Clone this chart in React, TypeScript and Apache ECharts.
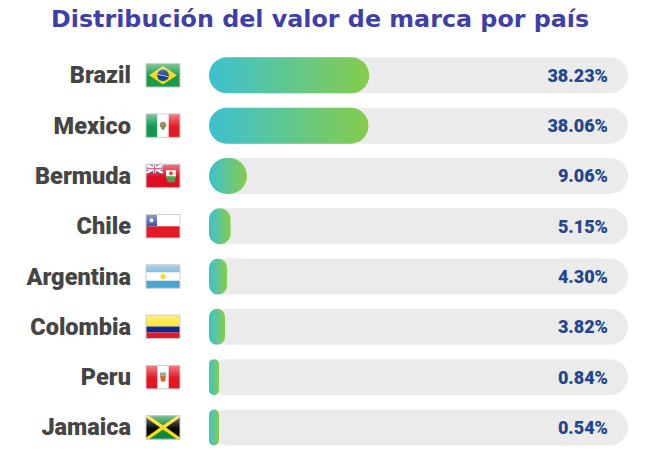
import React, { useEffect, useRef } from "react";
import * as echarts from "echarts";

const titleText = "Distribución del valor de marca por país";
const countries = ["Brazil", "Mexico", "Bermuda", "Chile", "Argentina", "Colombia", "Peru", "Jamaica"];
const shares = [38.23, 38.06, 9.06, 5.15, 4.3, 3.82, 0.84, 0.54];
const trackValues = [100, 100, 100, 100, 100, 100, 100, 100];

const W = 34;
const H = 23.5;
const r = (x: number, y: number, w: number, h: number, fill: string) => ({
  type: "rect",
  shape: { x, y, width: w, height: h },
  style: { fill },
});
const p = (points: number[][], fill: string) => ({ type: "polygon", shape: { points }, style: { fill } });
const c = (cx: number, cy: number, rad: number, fill: string) => ({
  type: "circle",
  shape: { cx, cy, r: rad },
  style: { fill },
});

const flagParts: Record<string, any[]> = {
  Brazil: [
    r(0, 0, W, H, "#1a9a4a"),
    p([[17, 2.5], [31, 11.75], [17, 21], [3, 11.75]], "#f4d90f"),
    c(17, 11.75, 5.8, "#1f3f94"),
    p([[11.8, 10.4], [22.3, 12.6], [22.2, 13.4], [11.6, 11.2]], "#dfe6ef"),
  ],
  Mexico: [
    r(0, 0, W / 3, H, "#109a50"),
    r(W / 3, 0, W / 3, H, "#ffffff"),
    r((2 * W) / 3, 0, W / 3, H, "#e41a26"),
    c(17, 11, 3.4, "#a08050"),
    c(17, 14, 1.8, "#5d9a60"),
  ],
  Bermuda: [
    r(0, 0, W, H, "#dd0f22"),
    r(0, 0, 17, 9, "#2d3f80"),
    p([[0, 0], [2, 0], [17, 7.5], [17, 9], [15, 9], [0, 1.5]], "#ffffff"),
    p([[17, 0], [15, 0], [0, 7.5], [0, 9], [2, 9], [17, 1.5]], "#ffffff"),
    r(7, 0, 3, 9, "#ffffff"),
    r(0, 3.2, 17, 2.6, "#ffffff"),
    r(7.8, 0, 1.4, 9, "#d8132a"),
    r(0, 3.9, 17, 1.2, "#d8132a"),
    r(20, 6, 10, 7, "#f0f0f0"),
    p([[20, 12], [30, 12], [28.5, 18], [21.5, 18]], "#4aa050"),
    c(25, 9, 2, "#c84040"),
  ],
  Chile: [
    r(0, 0, W, 11.75, "#ffffff"),
    r(0, 11.75, W, 11.75, "#e31b27"),
    r(0, 0, 11, 11.75, "#2f4fa0"),
    c(5.5, 5.8, 2, "#ffffff"),
  ],
  Argentina: [
    r(0, 0, W, H, "#ffffff"),
    r(0, 0, W, 7.5, "#66afd8"),
    r(0, 16, W, 7.5, "#4aa3d0"),
    c(17, 11.75, 2.7, "#f7d521"),
  ],
  Colombia: [
    r(0, 0, W, 11.5, "#fbe320"),
    r(0, 11.5, W, 6, "#10278f"),
    r(0, 17.5, W, 6, "#e21a2a"),
  ],
  Peru: [
    r(0, 0, W, H, "#e31622"),
    r(W / 3, 0, W / 3, H, "#ffffff"),
    r(14, 7, 6, 3.5, "#7aa090"),
    p([[14, 10.5], [20, 10.5], [19, 16], [15, 16]], "#e0602a"),
  ],
  Jamaica: [
    r(0, 0, W, H, "#0a0a0a"),
    p([[3, 0], [31, 0], [17, 9.5]], "#0b8a3a"),
    p([[3, H], [31, H], [17, 14]], "#0b8a3a"),
    p([[0, 0], [3, 0], [17, 9.6], [31, 0], [W, 0], [W, 1.8], [20, 11.75], [W, 21.7], [W, H], [31, H], [17, 14], [3, H], [0, H], [0, 21.7], [14, 11.75], [0, 1.8]], "#f6de14"),
  ],
};

function renderFlag(params: any, api: any) {
  const idx = api.value(1);
  const pt = api.coord([0, idx]);
  const name = countries[idx];
  return {
    type: "group",
    x: pt[0] - 63,
    y: pt[1] - H / 2,
    children: [
      ...flagParts[name],
      {
        type: "rect",
        shape: { x: 0, y: 0, width: W, height: H * 0.55 },
        style: {
          fill: new echarts.graphic.LinearGradient(0, 0, 0, 1, [
            { offset: 0, color: "rgba(255,255,255,0.45)" },
            { offset: 1, color: "rgba(255,255,255,0)" },
          ]),
        },
      },
      {
        type: "rect",
        shape: { x: 0, y: 0, width: W, height: H },
        style: { fill: "none", stroke: "#cfcfcf", lineWidth: 1 },
      },
    ],
  };
}

export default function App() {
  const ref = useRef<HTMLDivElement>(null);
  useEffect(() => {
    const chart = echarts.init(ref.current!, null, { renderer: "svg" });
    chart.setOption({
      animation: false,
      title: {
        text: titleText,
        left: 46,
        top: 2,
        textStyle: { fontFamily: "DejaVu Sans", fontWeight: "bold", fontSize: 23.8, color: "#3f3fa9" },
      },
      grid: { left: 209, top: 50.2, width: 419, height: 402.4 },
      xAxis: { type: "value", min: 0, max: 100, show: false },
      yAxis: {
        type: "category",
        inverse: true,
        data: countries,
        axisLine: { show: false },
        axisTick: { show: false },
        splitLine: { show: false },
        axisLabel: {
          margin: 78,
          fontFamily: "Roboto",
          fontWeight: 900,
          fontSize: 23.5,
          color: "#454545",
          padding: [4, 0, 0, 0],
        },
      },
      series: [
        {
          type: "bar",
          data: trackValues,
          barWidth: 36,
          barGap: "-100%",
          silent: true,
          itemStyle: { color: "#ebebeb", borderRadius: 18 },
          label: {
            show: true,
            position: "insideRight",
            distance: 20,
            formatter: (prm: any) => shares[prm.dataIndex].toFixed(2) + "%",
            fontFamily: "Roboto",
            fontWeight: 900,
            fontSize: 18,
            color: "#1f4690",
            padding: [6, 0, 0, 0],
          },
        },
        {
          type: "bar",
          data: shares,
          barWidth: 36,
          barMinHeight: 10,
          itemStyle: {
            borderRadius: 18,
            color: new echarts.graphic.LinearGradient(0, 0, 1, 0, [
              { offset: 0, color: "#3cc1d2" },
              { offset: 1, color: "#86cc4c" },
            ]),
          },
        },
        {
          type: "custom",
          coordinateSystem: "cartesian2d",
          clip: false,
          silent: true,
          data: countries.map((_, i) => [0, i]),
          encode: { x: 0, y: 1 },
          renderItem: renderFlag,
        },
      ],
    });
    return () => chart.dispose();
  }, []);
  return (
    <div style={{ position: "absolute", left: 0, top: 0, width: 650, height: 450, overflow: "hidden" }}>
      <div ref={ref} style={{ width: 650, height: 470 }} />
    </div>
  );
}
